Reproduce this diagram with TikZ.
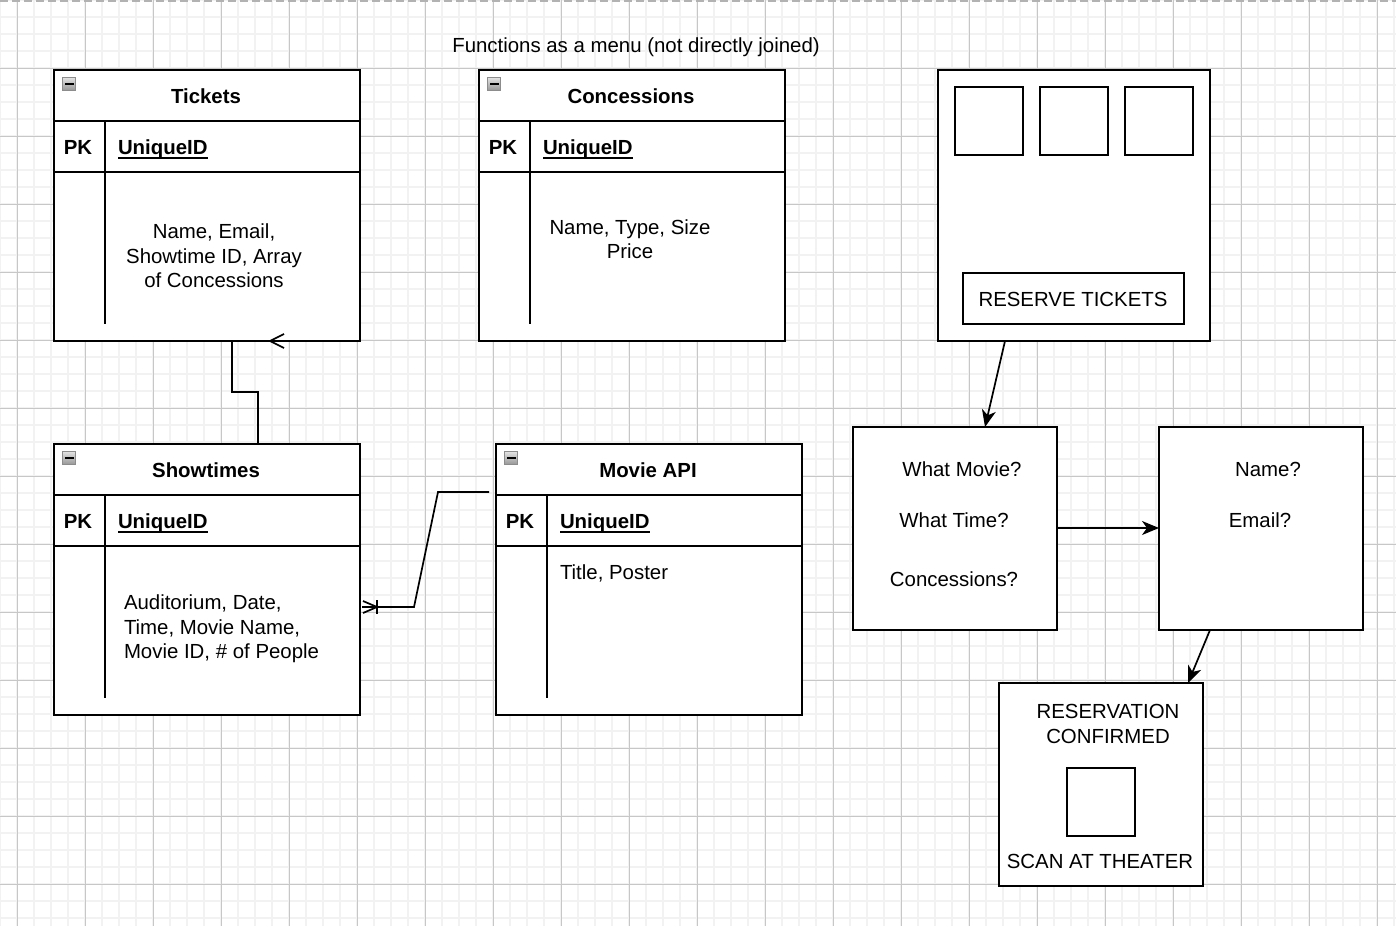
\documentclass[tikz,border=0pt]{standalone}
\usepackage{fontspec}
\setmainfont{Liberation Sans}
\usetikzlibrary{arrows.meta}
\begin{document}
\begin{tikzpicture}[x=1pt,y=-1pt,
  every node/.style={inner sep=0pt, outer sep=0pt},
  fnt/.style={font=\fontsize{20.4}{24.5}\selectfont},
  one/.style={text height=19.6pt, text depth=5pt},
  minorgrid/.style={draw=black!5, line width=1.6pt},
  majorgrid/.style={draw=black!22, line width=0.9pt},
  tbl/.style={draw, line width=1.7pt, fill=white, anchor=north west, minimum width=306pt, minimum height=271pt},
  sq/.style={draw, line width=1.7pt, fill=white, anchor=north west},
  ln/.style={line width=1.7pt},
  conn/.style={line width=1.7pt, line join=miter},
  arr/.style={line width=1.7pt, -{Stealth[length=17pt,width=14pt,inset=5pt]}},
  ttl/.style={one, font=\fontsize{20.4}{24.5}\selectfont\bfseries},
  icon/.style={draw=black!45, line width=0.8pt, top color=black!10, bottom color=black!40, minimum size=13pt, anchor=north west},
  txt/.style={fnt, align=center},
  stxt/.style={fnt, one},
  ltxt/.style={fnt, align=left, anchor=west},
  uline/.style={line width=1.7pt}
]
\useasboundingbox (0,0) rectangle (1396,926);
% background grid
\fill[white] (0,0) rectangle (1396,926);
\foreach \x in {0,17,...,1396} \draw[minorgrid] (\x,0) -- (\x,926);
\foreach \y in {0,17,...,926} \draw[minorgrid] (0,\y) -- (1396,\y);
\foreach \x in {17,85,...,1396} \draw[majorgrid] (\x,0) -- (\x,926);
\foreach \y in {68,136,...,926} \draw[majorgrid] (0,\y) -- (1396,\y);
\draw[black!30, line width=1.6pt, dash pattern=on 8pt off 4pt] (0,1) -- (1396,1);

% title
\node[stxt] (title) at (636,45) {Functions as a menu (not directly joined)};

% ---- Tickets
\node[tbl] (tix) at (54,70) {};
\draw[ln] (54,121) -- (360,121);
\draw[ln] (54,172) -- (360,172);
\draw[ln] (105,121) -- (105,324);
\node[icon] (tixicon) at (62,77) {};
\draw[line width=1.6pt] (65,84) -- (73.5,84);
\node[ttl] (tixt) at (206,96) {Tickets};
\node[ttl] (tixpk) at (78,147) {PK};
\node[ttl, anchor=west] (tixid) at (118,147) {UniqueID};
\draw[uline] ([yshift=-4pt]tixid.base west) -- ([yshift=-4pt]tixid.base east);
\node[txt] (tixb) at (214,256) {Name, Email,\\Showtime ID, Array\\of Concessions};

% ---- Concessions
\node[tbl] (con) at (479,70) {};
\draw[ln] (479,121) -- (785,121);
\draw[ln] (479,172) -- (785,172);
\draw[ln] (530,121) -- (530,324);
\node[icon] (conicon) at (487,77) {};
\draw[line width=1.6pt] (490,84) -- (498.5,84);
\node[ttl] (cont) at (631,96) {Concessions};
\node[ttl] (conpk) at (503,147) {PK};
\node[ttl, anchor=west] (conid) at (543,147) {UniqueID};
\draw[uline] ([yshift=-4pt]conid.base west) -- ([yshift=-4pt]conid.base east);
\node[txt] (conb) at (630,239) {Name, Type, Size\\Price};

% ---- Showtimes
\node[tbl] (shw) at (54,444) {};
\draw[ln] (54,495) -- (360,495);
\draw[ln] (54,546) -- (360,546);
\draw[ln] (105,495) -- (105,698);
\node[icon] (shwicon) at (62,451) {};
\draw[line width=1.6pt] (65,458) -- (73.5,458);
\node[ttl] (shwt) at (206,470) {Showtimes};
\node[ttl] (shwpk) at (78,521) {PK};
\node[ttl, anchor=west] (shwid) at (118,521) {UniqueID};
\draw[uline] ([yshift=-4pt]shwid.base west) -- ([yshift=-4pt]shwid.base east);
\node[ltxt] (shwb) at (124,629) {Auditorium, Date,\\Time, Movie Name,\\Movie ID, \# of People};

% ---- Movie API
\node[tbl] (api) at (496,444) {};
\draw[ln] (496,495) -- (802,495);
\draw[ln] (496,546) -- (802,546);
\draw[ln] (547,495) -- (547,698);
\node[icon] (apiicon) at (504,451) {};
\draw[line width=1.6pt] (507,458) -- (515.5,458);
\node[ttl] (apit) at (648,470) {Movie API};
\node[ttl] (apipk) at (520,521) {PK};
\node[ttl, anchor=west] (apiid) at (560,521) {UniqueID};
\draw[uline] ([yshift=-4pt]apiid.base west) -- ([yshift=-4pt]apiid.base east);
\node[stxt, anchor=west] (apib) at (560,572) {Title, Poster};

% ---- connector Showtimes -> Tickets
\coordinate (c1a) at (258,444);
\coordinate (c1b) at (258,392);
\coordinate (c1c) at (232,392);
\coordinate (c1d) at (232,341);
\coordinate (c1e) at (285,341);
\draw[conn] (c1a) -- (c1b) -- (c1c) -- (c1d) -- (c1e);
\draw[ln] (284,334) -- (270,341) -- (284,348);

% ---- connector Movie API -> Showtimes
\coordinate (c2a) at (489,492);
\coordinate (c2b) at (438,492);
\coordinate (c2c) at (414,607);
\coordinate (c2d) at (362,607);
\draw[conn] (c2a) -- (c2b) -- (c2c) -- (c2d);
\draw[ln] (363,601) -- (377,607) -- (363,613);
\draw[ln] (377,600) -- (377,614);

% ---- phone screen
\node[sq, minimum width=272pt, minimum height=271pt] (phone) at (938,70) {};
\node[sq, minimum size=68pt] (s1) at (955,87) {};
\node[sq, minimum size=68pt] (s2) at (1040,87) {};
\node[sq, minimum size=68pt] (s3) at (1125,87) {};
\node[sq, minimum width=221pt, minimum height=51pt] (btn) at (963,273) {};
\node[stxt] (btnt) at (1073,299) {RESERVE TICKETS};

% ---- question boxes
\node[sq, minimum width=204pt, minimum height=203pt] (q1) at (853,427) {};
\node[stxt] (q1a) at (962,469) {What Movie?};
\node[stxt] (q1b) at (954,520) {What Time?};
\node[stxt] (q1c) at (954,579) {Concessions?};

\node[sq, minimum width=204pt, minimum height=203pt] (q2) at (1159,427) {};
\node[stxt] (q2a) at (1268,469) {Name?};
\node[stxt] (q2b) at (1260,520) {Email?};

\node[sq, minimum width=204pt, minimum height=203pt] (conf) at (999,683) {};
\node[txt] (confa) at (1108,724) {RESERVATION\\CONFIRMED};
\node[sq, minimum size=68pt] (qr) at (1067,768) {};
\node[stxt] (confb) at (1100,861) {SCAN AT THEATER};

% ---- arrows
\coordinate (a1s) at (1005,341);
\coordinate (a1e) at (985,427);
\draw[arr] (a1s) -- (a1e);
\coordinate (a2s) at (1057,528);
\coordinate (a2e) at (1159,528);
\draw[arr] (a2s) -- (a2e);
\coordinate (a3s) at (1210,630);
\coordinate (a3e) at (1188,683);
\draw[arr] (a3s) -- (a3e);
\end{tikzpicture}
\end{document}
